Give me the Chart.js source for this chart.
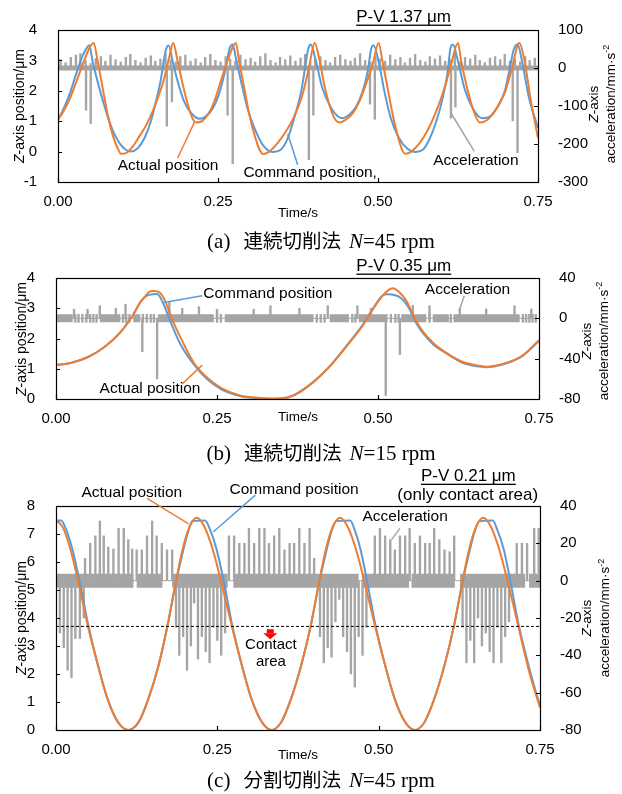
<!DOCTYPE html>
<html><head><meta charset="utf-8">
<script src="https://cdn.jsdelivr.net/npm/chart.js"></script>
<style>
body{margin:0;background:#fff;width:622px;height:794px;position:relative;overflow:hidden;font-family:"Liberation Sans",Arial,sans-serif;}
canvas{position:absolute;left:0;}
.t{position:absolute;white-space:nowrap;color:#000;line-height:1;}
.c{transform:translate(-50%,-50%);}
.rot{transform:translate(-50%,-50%) rotate(-90deg);text-align:center;}
.cap{position:absolute;left:0;width:642px;text-align:center;font-family:"Liberation Serif","Noto Sans CJK JP",serif;font-size:21px;line-height:24px;color:#000;white-space:nowrap;}
.cap .j{margin-left:13px;font-family:"Noto Sans CJK JP",serif;font-size:19.5px;}
.cap .n{margin-left:8px;}
sup{font-size:9px;}
</style></head><body>
<canvas id="ca" width="622" height="230" style="top:0px"></canvas>
<canvas id="cb" width="622" height="180" style="top:250px"></canvas>
<canvas id="cc" width="622" height="300" style="top:460px"></canvas>

<div class="t rot" style="left:19px;top:106px;font-size:14px;"><i>Z</i>-axis position/μm</div>
<div class="t rot" style="left:602px;top:104px;font-size:13.5px;line-height:13px;"><i>Z</i>-axis<br>acceleration/mm·s<sup>-2</sup></div>
<div class="t c" style="left:298px;top:213px;font-size:13.5px;">Time/s</div>
<div class="cap" style="top:228px;">(a)<span class="j">連続切削法</span><span class="n"><i>N</i>=45 rpm</span></div>

<div class="t rot" style="left:21px;top:339px;font-size:14px;"><i>Z</i>-axis position/μm</div>
<div class="t rot" style="left:595px;top:341px;font-size:13.5px;line-height:13px;"><i>Z</i>-axis<br>acceleration/mm·s<sup>-2</sup></div>
<div class="t c" style="left:298px;top:417px;font-size:13.5px;">Time/s</div>
<div class="cap" style="top:440px;">(b)<span class="j">連続切削法</span><span class="n"><i>N</i>=15 rpm</span></div>

<div class="t rot" style="left:21px;top:618px;font-size:14px;"><i>Z</i>-axis position/μm</div>
<div class="t rot" style="left:596px;top:618px;font-size:13.5px;line-height:14px;"><i>Z</i>-axis<br>acceleration/mm·s<sup>-2</sup></div>
<div class="t c" style="left:298px;top:755px;font-size:13.5px;">Time/s</div>
<div class="cap" style="top:767px;">(c)<span class="j">分割切削法</span><span class="n"><i>N</i>=45 rpm</span></div>

<script>
// ---------- DATA ----------
// (a) continuous cutting N=45 rpm
const cmdA = [[0,1.05],[0.007,1.33],[0.018,1.88],[0.028,2.53],[0.038,3.13],[0.044,3.38],[0.049,3.50],[0.054,2.97],[0.0646,2.09],[0.075,1.33],[0.085,0.72],[0.096,0.28],[0.106,0.06],[0.114,0.00],[0.1245,0.11],[0.135,0.44],[0.145,0.99],[0.153,1.64],[0.161,2.41],[0.166,3.07],[0.169,3.38],[0.173,3.49],[0.179,2.97],[0.187,2.31],[0.197,1.65],[0.208,1.27],[0.221,1.08],[0.231,1.16],[0.242,1.43],[0.250,1.80],[0.257,2.30],[0.263,2.85],[0.268,3.38],[0.273,3.52],[0.278,3.07],[0.286,2.31],[0.296,1.43],[0.307,0.77],[0.320,0.22],[0.335,-0.01],[0.348,0.06],[0.359,0.44],[0.369,1.10],[0.380,1.98],[0.386,2.75],[0.391,3.38],[0.395,3.52],[0.403,2.97],[0.413,2.09],[0.427,1.43],[0.437,1.16],[0.445,1.10],[0.455,1.21],[0.466,1.48],[0.476,1.98],[0.484,2.64],[0.489,3.35],[0.493,3.50],[0.502,2.86],[0.510,1.98],[0.520,1.10],[0.533,0.44],[0.546,0.09],[0.557,-0.01],[0.570,0.06],[0.580,0.39],[0.591,0.99],[0.601,1.76],[0.609,2.64],[0.613,3.38],[0.617,3.52],[0.625,2.97],[0.635,2.09],[0.648,1.43],[0.663,1.10],[0.677,1.19],[0.687,1.48],[0.698,1.98],[0.705,2.64],[0.712,3.35],[0.718,3.53],[0.726,2.86],[0.736,1.76],[0.750,0.78]];
const actA = [[0,1.05],[0.007,1.27],[0.018,1.71],[0.028,2.26],[0.0385,2.86],[0.049,3.40],[0.0557,3.57],[0.062,2.97],[0.0698,2.09],[0.0776,1.21],[0.0854,0.55],[0.0932,0.11],[0.0984,-0.07],[0.106,-0.05],[0.117,0.17],[0.127,0.50],[0.138,0.88],[0.148,1.33],[0.158,1.88],[0.166,2.41],[0.174,3.13],[0.180,3.57],[0.187,2.97],[0.195,2.20],[0.203,1.54],[0.210,1.10],[0.216,0.96],[0.224,0.99],[0.234,1.21],[0.244,1.64],[0.255,2.36],[0.266,3.05],[0.278,3.57],[0.283,2.97],[0.291,2.09],[0.299,1.21],[0.307,0.55],[0.315,0.06],[0.320,-0.08],[0.330,0.00],[0.343,0.28],[0.356,0.66],[0.369,1.15],[0.382,1.87],[0.392,2.75],[0.401,3.57],[0.409,2.97],[0.416,2.20],[0.424,1.54],[0.432,1.10],[0.440,0.96],[0.450,1.05],[0.461,1.27],[0.471,1.65],[0.481,2.20],[0.492,2.91],[0.501,3.57],[0.507,2.97],[0.515,2.09],[0.523,1.21],[0.531,0.50],[0.539,0.00],[0.543,-0.07],[0.552,0.00],[0.565,0.28],[0.578,0.72],[0.591,1.33],[0.604,2.09],[0.614,2.86],[0.625,3.57],[0.630,2.97],[0.638,2.20],[0.648,1.43],[0.659,0.96],[0.671,1.05],[0.684,1.38],[0.698,1.93],[0.708,2.64],[0.721,3.57],[0.729,2.97],[0.739,1.65],[0.750,0.45]];
const accUpA = [[0.004,22],[0.012,14],[0.020,28],[0.028,34],[0.035,38],[0.043,20],[0.051,12],[0.059,25],[0.067,30],[0.074,18],[0.082,34],[0.090,22],[0.098,16],[0.106,28],[0.113,36],[0.121,20],[0.129,14],[0.137,26],[0.145,32],[0.152,18],[0.160,24],[0.168,38],[0.176,22],[0.184,16],[0.191,30],[0.199,34],[0.207,18],[0.215,24],[0.223,14],[0.230,28],[0.238,36],[0.246,20],[0.254,16],[0.262,30],[0.269,24],[0.277,18],[0.285,34],[0.293,22],[0.301,26],[0.308,16],[0.316,30],[0.324,38],[0.332,20],[0.340,14],[0.347,28],[0.355,22],[0.363,32],[0.371,18],[0.379,26],[0.386,36],[0.394,16],[0.402,24],[0.410,30],[0.418,20],[0.425,14],[0.433,28],[0.441,34],[0.449,22],[0.457,18],[0.464,26],[0.472,38],[0.480,20],[0.488,16],[0.496,30],[0.503,24],[0.511,18],[0.519,34],[0.527,22],[0.535,28],[0.542,14],[0.550,26],[0.558,36],[0.566,20],[0.574,16],[0.581,30],[0.589,24],[0.597,32],[0.605,18],[0.613,22],[0.620,38],[0.628,16],[0.636,28],[0.644,24],[0.652,34],[0.659,20],[0.667,14],[0.675,26],[0.683,30],[0.691,22],[0.698,36],[0.706,18],[0.714,24],[0.722,16],[0.730,30],[0.737,20],[0.745,26]];
const accDownA = [[0.0438,-111],[0.0511,-146],[0.170,-153],[0.178,-89],[0.265,-124],[0.273,-252],[0.392,-241],[0.399,-124],[0.4875,-95],[0.495,-135],[0.614,-132],[0.621,-103],[0.7105,-139],[0.718,-223]];
const bandA = [[0,0.75]];

// (b) continuous cutting N=15 rpm
const cmdB = [[0,1.12],[0.023,1.19],[0.049,1.38],[0.075,1.71],[0.100,2.20],[0.119,2.76],[0.131,3.20],[0.139,3.39],[0.157,3.47],[0.168,3.09],[0.178,2.54],[0.193,1.82],[0.214,1.14],[0.235,0.65],[0.256,0.33],[0.287,0.09],[0.310,0.03],[0.335,0.00],[0.360,0.05],[0.373,0.16],[0.399,0.55],[0.424,1.06],[0.450,1.73],[0.476,2.44],[0.492,2.98],[0.507,3.42],[0.515,3.46],[0.536,3.33],[0.549,2.97],[0.559,2.53],[0.569,2.20],[0.585,1.82],[0.605,1.52],[0.631,1.20],[0.657,1.07],[0.670,1.05],[0.692,1.13],[0.724,1.42],[0.750,1.92]];
const actB = [[0,1.12],[0.023,1.19],[0.049,1.38],[0.075,1.72],[0.100,2.21],[0.119,2.76],[0.131,3.20],[0.139,3.40],[0.144,3.53],[0.152,3.57],[0.161,3.52],[0.170,3.22],[0.181,2.60],[0.197,1.88],[0.214,1.20],[0.235,0.70],[0.256,0.37],[0.287,0.11],[0.310,0.05],[0.335,0.02],[0.360,0.06],[0.373,0.17],[0.399,0.55],[0.424,1.05],[0.450,1.71],[0.476,2.42],[0.492,2.97],[0.507,3.41],[0.516,3.60],[0.523,3.66],[0.533,3.53],[0.544,3.25],[0.554,2.81],[0.567,2.31],[0.585,1.87],[0.605,1.54],[0.631,1.23],[0.657,1.10],[0.670,1.07],[0.692,1.15],[0.724,1.43],[0.750,1.94]];
const accUpB = [[0.028,9],[0.049,9],[0.068,12.5],[0.093,10],[0.108,14],[0.176,15.8],[0.196,10],[0.222,11.5],[0.250,9],[0.307,9],[0.333,12.5],[0.378,10],[0.422,12.5],[0.468,12.5],[0.489,10],[0.554,13],[0.580,12.5],[0.627,9.3],[0.668,9.3],[0.712,12.5],[0.738,9.3]];
const accDownB = [[0.134,-33],[0.157,-60],[0.512,-76.5],[0.534,-36]];
const accNoiseB = [0.030,0.035,0.041,0.047,0.053,0.058,0.063,0.104,0.109,0.114,0.135,0.141,0.147,0.152,0.250,0.256,0.405,0.411,0.417,0.460,0.465,0.520,0.527,0.532,0.580,0.613,0.725,0.730,0.735,0.740,0.745];
const bandB = [[0,0.026],[0.068,0.100],[0.120,0.131],[0.158,0.245],[0.262,0.400],[0.425,0.455],[0.470,0.515],[0.536,0.575],[0.585,0.610],[0.617,0.720]];

// (c) divided cutting N=45 rpm
const cmdC = [[0,7.48],[0.008,7.48],[0.015,7.20],[0.026,6.40],[0.038,5.15],[0.050,3.75],[0.065,2.31],[0.080,1.10],[0.096,0.28],[0.112,0.00],[0.128,0.28],[0.143,1.10],[0.159,2.31],[0.173,3.75],[0.185,5.18],[0.197,6.40],[0.205,7.10],[0.211,7.46],[0.231,7.48],[0.238,7.20],[0.249,6.44],[0.261,5.20],[0.273,3.75],[0.288,2.31],[0.303,1.10],[0.319,0.28],[0.334,0.00],[0.349,0.28],[0.364,1.10],[0.380,2.31],[0.395,3.75],[0.407,5.18],[0.419,6.40],[0.427,7.10],[0.434,7.46],[0.456,7.48],[0.462,7.20],[0.472,6.44],[0.483,5.20],[0.495,3.75],[0.510,2.31],[0.525,1.10],[0.541,0.28],[0.556,0.00],[0.571,0.28],[0.586,1.10],[0.602,2.31],[0.617,3.75],[0.629,5.18],[0.641,6.40],[0.649,7.10],[0.656,7.46],[0.677,7.48],[0.683,7.20],[0.694,6.44],[0.705,5.20],[0.717,3.75],[0.734,2.15],[0.750,0.85]];
const actC = [[0,7.50],[0.011,7.22],[0.023,6.40],[0.036,5.15],[0.049,3.75],[0.065,2.31],[0.080,1.10],[0.096,0.28],[0.112,0.00],[0.128,0.28],[0.143,1.10],[0.159,2.31],[0.173,3.75],[0.185,5.20],[0.196,6.44],[0.207,7.26],[0.218,7.58],[0.230,7.26],[0.243,6.44],[0.257,5.20],[0.272,3.75],[0.288,2.31],[0.303,1.10],[0.319,0.28],[0.334,0.00],[0.349,0.28],[0.364,1.10],[0.380,2.31],[0.395,3.75],[0.407,5.20],[0.418,6.44],[0.429,7.26],[0.440,7.58],[0.452,7.26],[0.465,6.44],[0.479,5.20],[0.494,3.75],[0.510,2.31],[0.525,1.10],[0.541,0.28],[0.556,0.00],[0.571,0.28],[0.586,1.10],[0.602,2.31],[0.617,3.75],[0.629,5.20],[0.640,6.44],[0.651,7.26],[0.662,7.58],[0.674,7.26],[0.687,6.44],[0.701,5.20],[0.716,3.75],[0.733,2.10],[0.750,0.80]];
const accUpC = [[0.045,12],[0.053,20],[0.061,24],[0.068,32],[0.074,24],[0.081,18],[0.089,17],[0.097,28],[0.105,28],[0.112,22],[0.118,17],[0.125,16.5],[0.133,16.5],[0.141,24],[0.149,32],[0.156,24],[0.164,20],[0.172,16.5],[0.180,16.5],[0.268,24],[0.276,24],[0.284,20],[0.292,20],[0.299,28],[0.307,20],[0.315,28],[0.323,28],[0.330,20],[0.338,24],[0.346,28],[0.354,16.5],[0.362,20],[0.369,20],[0.377,28],[0.385,20],[0.393,28],[0.400,12],[0.494,24],[0.502,28],[0.510,24],[0.518,22],[0.525,16.5],[0.533,24],[0.541,24],[0.548,28],[0.556,20],[0.564,24],[0.572,20],[0.579,20],[0.586,28],[0.594,22],[0.602,16.5],[0.610,15.5],[0.617,24],[0.714,20],[0.722,20],[0.730,20],[0.741,28],[0.748,28]];
const accDownC = [[0.006,-28],[0.012,-36],[0.018,-48],[0.024,-52],[0.030,-31],[0.037,-31],[0.043,-20],[0.186,-25],[0.191,-40],[0.197,-30],[0.203,-48],[0.209,-35],[0.214,-12],[0.220,-42],[0.226,-30],[0.232,-38],[0.238,-44],[0.244,-25],[0.250,-32],[0.256,-40],[0.262,-28],[0.409,-30],[0.415,-44],[0.421,-36],[0.427,-41],[0.433,-22],[0.439,-10],[0.445,-30],[0.451,-38],[0.457,-50],[0.463,-57],[0.469,-30],[0.475,-40],[0.481,-25],[0.630,-25],[0.636,-44],[0.642,-32],[0.648,-44],[0.654,-20],[0.660,-35],[0.666,-28],[0.672,-38],[0.678,-44],[0.684,-25],[0.690,-44],[0.696,-30],[0.702,-22]];
const bandC = [[0,0.120],[0.125,0.165],[0.180,0.266],[0.275,0.469],[0.474,0.547],[0.551,0.618],[0.626,0.727],[0.733,0.750]];
const contactLevel = 3.7;

const timeTicks = [0, 0.25, 0.5, 0.75];

// ---------- STYLE ----------
const BLUE = '#5b9bd5', ORANGE = '#ed7d31', GRAY = '#a5a5a5';
Chart.defaults.font.family = '"Liberation Sans", Arial, sans-serif';
Chart.defaults.font.size = 15;
Chart.defaults.color = '#000';

const toXY = a => a.map(p => ({x: p[0], y: p[1]}));
const spikeBars = (up, down, noise) => [
  ...up.map(p => ({x: p[0], y: [0, p[1]]})),
  ...down.map(p => ({x: p[0], y: [p[1], 0]})),
  ...(noise || []).map(t => ({x: t, y: [-4, 4]}))
];
function bandLine(segs){
  const out = [];
  segs.forEach((s, i) => {
    if (i > 0) out.push({x: (segs[i-1][1] + s[0]) / 2, y: null});
    out.push({x: s[0], y: 0}, {x: s[1], y: 0});
  });
  return out;
}

const framePlugin = {
  id: 'frame',
  afterDraw(chart){
    const {ctx, chartArea: a, scales} = chart;
    ctx.save();
    ctx.strokeStyle = '#000'; ctx.lineWidth = 1.2;
    ctx.strokeRect(Math.round(a.left)+0.5, Math.round(a.top)+0.5, Math.round(a.right-a.left), Math.round(a.bottom-a.top));
    ctx.beginPath();
    scales.x.ticks.forEach(t => { const p = Math.round(scales.x.getPixelForValue(t.value))+0.5; ctx.moveTo(p, a.bottom); ctx.lineTo(p, a.bottom-4); });
    scales.y.ticks.forEach(t => { const p = Math.round(scales.y.getPixelForValue(t.value))+0.5; ctx.moveTo(a.left, p); ctx.lineTo(a.left+4, p); });
    scales.y2.ticks.forEach(t => { const p = Math.round(scales.y2.getPixelForValue(t.value))+0.5; ctx.moveTo(a.right, p); ctx.lineTo(a.right-4, p); });
    ctx.stroke();
    ctx.restore();
  }
};

function annotPlugin(cfg){
  return {
    id: 'annot',
    afterDraw(chart){
      const ctx = chart.ctx, xs = chart.scales.x, ys = chart.scales.y;
      const X = t => xs.getPixelForValue(t), Y = v => ys.getPixelForValue(v);
      ctx.save();
      (cfg.leaders || []).forEach(l => {
        ctx.strokeStyle = l.c; ctx.lineWidth = 1.5;
        ctx.beginPath(); ctx.moveTo(X(l.p[0]), Y(l.p[1])); ctx.lineTo(X(l.p[2]), Y(l.p[3])); ctx.stroke();
      });
      (cfg.labels || []).forEach(l => {
        const s = l.s || 15.5;
        ctx.font = s + 'px "Liberation Sans", Arial, sans-serif';
        ctx.fillStyle = '#000'; ctx.textAlign = 'center'; ctx.textBaseline = 'middle';
        const x = X(l.t), y = Y(l.v);
        ctx.fillText(l.text, x, y);
        if (l.u) { const w = ctx.measureText(l.text).width; ctx.fillRect(x - w/2, y + s*0.45, w, 1.3); }
      });
      if (cfg.arrow) {
        const x = X(cfg.arrow[0]), y = Y(cfg.arrow[1]);
        ctx.fillStyle = '#ff0000';
        ctx.fillRect(x-3.5, y, 7, 4);
        ctx.beginPath(); ctx.moveTo(x-7, y+4); ctx.lineTo(x+7, y+4); ctx.lineTo(x, y+10); ctx.closePath(); ctx.fill();
      }
      ctx.restore();
    }
  };
}

function makeChart(id, o){
  const datasets = [];
  if (o.dash) datasets.push({label:'contact', data:[{x:0,y:o.dash},{x:0.75,y:o.dash}], yAxisID:'y', borderColor:'#000', borderWidth:1, borderDash:[3,2], pointRadius:0, order:0});
  datasets.push(
    {label:'Actual position', data:toXY(o.act), yAxisID:'y', borderColor:ORANGE, borderWidth:2, pointRadius:0, cubicInterpolationMode:'monotone', order:1},
    {label:'Command position', data:toXY(o.cmd), yAxisID:'y', borderColor:BLUE, borderWidth:2, pointRadius:0, cubicInterpolationMode:'monotone', order:2},
    {type:'bar', label:'Acceleration', data:spikeBars(o.up, o.down, o.noise), yAxisID:'y2', backgroundColor:GRAY, borderWidth:0, barThickness:1.7, order:3},
    {label:'band', data:bandLine(o.band), yAxisID:'y2', borderColor:GRAY, borderWidth:o.bandW, borderCapStyle:'butt', pointRadius:0, spanGaps:false, order:4},
    {label:'base', data:[{x:0,y:0},{x:0.75,y:0}], yAxisID:'y2', borderColor:GRAY, borderWidth:1, pointRadius:0, order:5}
  );
  return new Chart(document.getElementById(id), {
    type:'line',
    data:{datasets},
    options:{
      responsive:false, animation:false, events:[],
      layout:{padding:{top:o.padTop, left:0, right:0, bottom:0}},
      plugins:{legend:{display:false}, tooltip:{enabled:false}},
      scales:{
        x:{type:'linear', min:0, max:0.75, offset:false,
           afterBuildTicks: s => { s.ticks = timeTicks.map(v => ({value:v})); },
           ticks:{callback: v => Number(v).toFixed(2), padding:3, maxRotation:0, autoSkip:false},
           grid:{display:false}, border:{display:false},
           afterFit: s => { s.height = o.xH; }},
        y:{type:'linear', position:'left', min:o.yMin, max:o.yMax,
           ticks:{stepSize:o.yStep, padding:13},
           grid:{display:false}, border:{display:false},
           afterFit: s => { s.width = o.yW; }},
        y2:{type:'linear', position:'right', min:o.y2Min, max:o.y2Max,
           ticks:{stepSize:o.y2Step, padding:12},
           grid:{display:false}, border:{display:false},
           afterFit: s => { s.width = o.y2W; }}
      }
    },
    plugins:[framePlugin, annotPlugin(o.annot)]
  });
}

makeChart('ca', {
  cmd:cmdA, act:actA, up:accUpA, down:accDownA, band:bandA, bandW:5,
  padTop:30, xH:48, yW:58, y2W:84, yMin:-1, yMax:4, yStep:1, y2Min:-300, y2Max:100, y2Step:100,
  annot:{
    leaders:[{c:ORANGE,p:[0.187,-0.21,0.213,0.96]},{c:BLUE,p:[0.3745,-0.43,0.359,0.58]},{c:GRAY,p:[0.6505,0.01,0.614,1.27]}],
    labels:[{text:'P-V 1.37 μm',t:0.540,v:4.43,s:17,u:true},{text:'Actual position',t:0.172,v:-0.47},{text:'Command position,',t:0.394,v:-0.70},{text:'Acceleration',t:0.653,v:-0.30}]
  }
});
makeChart('cb', {
  cmd:cmdB, act:actB, up:accUpB, down:accDownB, noise:accNoiseB, band:bandB, bandW:8,
  padTop:28, xH:31, yW:56, y2W:83, yMin:0, yMax:4, yStep:1, y2Min:-80, y2Max:40, y2Step:40,
  annot:{
    leaders:[{c:BLUE,p:[0.1677,3.19,0.227,3.41]},{c:GRAY,p:[0.634,3.41,0.626,2.92]},{c:ORANGE,p:[0.196,0.5,0.227,1.12]}],
    labels:[{text:'P-V 0.35 μm',t:0.540,v:4.40,s:17,u:true},{text:'Command position',t:0.329,v:3.47},{text:'Acceleration',t:0.639,v:3.61},{text:'Actual position',t:0.146,v:0.33}]
  }
});
makeChart('cc', {
  cmd:cmdC, act:actC, up:accUpC, down:accDownC, band:bandC, bandW:14, dash:contactLevel,
  padTop:46, xH:30, yW:56, y2W:82, yMin:0, yMax:8, yStep:1, y2Min:-80, y2Max:40, y2Step:20,
  annot:{
    leaders:[{c:ORANGE,p:[0.141,8.27,0.2055,7.36]},{c:BLUE,p:[0.309,8.39,0.244,7.08]},{c:GRAY,p:[0.533,7.2,0.520,6.8]}],
    labels:[{text:'P-V 0.21 μm',t:0.639,v:9.07,s:17,u:true},{text:'(only contact area)',t:0.638,v:8.39,s:17},{text:'Actual position',t:0.1175,v:8.48},{text:'Command position',t:0.369,v:8.57},{text:'Acceleration',t:0.541,v:7.6},{text:'Contact',t:0.333,v:3.04,s:15},{text:'area',t:0.333,v:2.43,s:15}],
    arrow:[0.332,3.6]
  }
});
</script>
</body></html>
